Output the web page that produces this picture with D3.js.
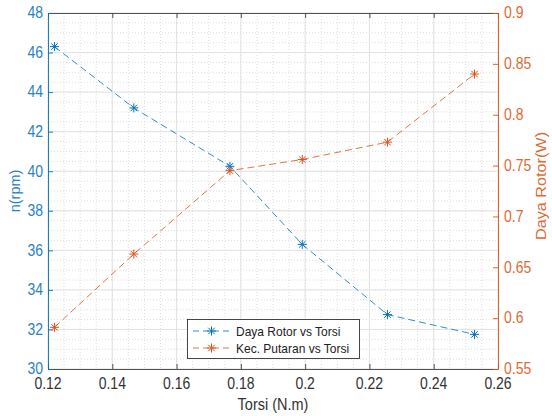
<!DOCTYPE html>
<html>
<head>
<meta charset="utf-8">
<script src="https://cdn.jsdelivr.net/npm/d3@7"></script>
<style>
  html, body { margin: 0; padding: 0; background: #fff; }
  svg { display: block; }
  text { font-family: "Liberation Sans", Arial, Helvetica, sans-serif; }
</style>
</head>
<body>
<svg id="chart" width="552" height="416"></svg>
<script>
// Torque (N.m) on the x axis
const torsi = [0.122, 0.1467, 0.1766, 0.1991, 0.2256, 0.2527];
// Left axis series (blue)
const dayaRotor = [46.3, 43.2, 40.25, 36.3, 32.75, 31.75];
// Right axis series (orange)
const kecPutaran = [0.591, 0.663, 0.745, 0.756, 0.773, 0.840];

const xTicks = [0.12, 0.14, 0.16, 0.18, 0.2, 0.22, 0.24, 0.26];
const yLeftTicks = [30, 32, 34, 36, 38, 40, 42, 44, 46, 48];
const yRightTicks = [0.55, 0.6, 0.65, 0.7, 0.75, 0.8, 0.85, 0.9];

const labels = {
  x: "Torsi (N.m)",
  yLeft: "n(rpm)",
  yRight: "Daya Rotor(W)",
  s1: "Daya Rotor vs Torsi",
  s2: "Kec. Putaran vs Torsi"
};

const BLUE = "#0072BD", ORANGE = "#D95319", AXIS = "#404040";
const BLUE_TXT = "#2a82c3", ORANGE_TXT = "#de6a36";

const W = 552, H = 416;
const m = { top: 13, right: 54, bottom: 47, left: 48 };
const pw = W - m.left - m.right, ph = H - m.top - m.bottom;

const svg = d3.select("#chart");
const g = svg.append("g").attr("transform", `translate(${m.left},${m.top})`);

const x = d3.scaleLinear().domain([0.12, 0.26]).range([0, pw]);
const yL = d3.scaleLinear().domain([30, 48]).range([ph, 0]);
const yR = d3.scaleLinear().domain([0.55, 0.9]).range([ph, 0]);

// minor grid (dotted)
const xMinor = d3.range(0, 29).map(i => 0.12 + i * 0.005);
const yMinor = d3.range(0, 37).map(i => 30 + i * 0.5);
g.append("g").selectAll("line").data(xMinor).join("line")
  .attr("x1", d => x(d)).attr("x2", d => x(d)).attr("y1", 0).attr("y2", ph)
  .attr("stroke", "#d6d6d6").attr("stroke-width", 0.8).attr("stroke-dasharray", "1,2");
g.append("g").selectAll("line").data(yMinor).join("line")
  .attr("y1", d => yL(d)).attr("y2", d => yL(d)).attr("x1", 0).attr("x2", pw)
  .attr("stroke", "#d6d6d6").attr("stroke-width", 0.8).attr("stroke-dasharray", "1,2");

// major grid
g.append("g").selectAll("line").data(xTicks).join("line")
  .attr("x1", d => x(d)).attr("x2", d => x(d)).attr("y1", 0).attr("y2", ph)
  .attr("stroke", "#e2e2e2").attr("stroke-width", 1);
g.append("g").selectAll("line").data(yLeftTicks).join("line")
  .attr("y1", d => yL(d)).attr("y2", d => yL(d)).attr("x1", 0).attr("x2", pw)
  .attr("stroke", "#e2e2e2").attr("stroke-width", 1);

// axes with inward ticks
const fmt = d => String(+d.toFixed(3));
const axB = g.append("g").attr("transform", `translate(0,${ph})`)
  .call(d3.axisBottom(x).tickValues(xTicks).tickSizeInner(-5).tickSizeOuter(0).tickFormat(""));
const axT = g.append("g")
  .call(d3.axisTop(x).tickValues(xTicks).tickSizeInner(-5).tickSizeOuter(0).tickFormat(""));
const axL = g.append("g")
  .call(d3.axisLeft(yL).tickValues(yLeftTicks).tickSizeInner(-5).tickSizeOuter(0).tickFormat(""));
const axR = g.append("g").attr("transform", `translate(${pw},0)`)
  .call(d3.axisRight(yR).tickValues(yRightTicks).tickSizeInner(-5).tickSizeOuter(0).tickFormat(""));
[axB, axT].forEach(a => { a.selectAll("path, line").attr("stroke", AXIS).attr("stroke-width", 0.9); });
axL.selectAll("path, line").attr("stroke", BLUE).attr("stroke-width", 0.9);
axR.selectAll("path, line").attr("stroke", ORANGE).attr("stroke-width", 0.9);

// tick labels (slightly tall glyphs)
const TS = 14, STR = 1.12;
g.append("g").selectAll("text").data(xTicks).join("text")
  .attr("transform", d => `translate(${x(d)},${ph + 20}) scale(1,${STR})`)
  .attr("text-anchor", "middle").attr("font-size", TS).attr("fill", "#333")
  .text(fmt);
g.append("g").selectAll("text").data(yLeftTicks).join("text")
  .attr("transform", d => `translate(-5,${yL(d)}) scale(1,${STR})`)
  .attr("dy", "0.34em").attr("text-anchor", "end").attr("font-size", TS).attr("fill", BLUE_TXT)
  .text(fmt);
g.append("g").selectAll("text").data(yRightTicks).join("text")
  .attr("transform", d => `translate(${pw + 6},${yR(d)}) scale(1,${STR})`)
  .attr("dy", "0.34em").attr("text-anchor", "start").attr("font-size", TS).attr("fill", ORANGE_TXT)
  .text(fmt);

// axis titles
svg.append("text")
  .attr("transform", `translate(${m.left + pw / 2},${H - 6}) scale(1,${STR})`)
  .attr("text-anchor", "middle").attr("font-size", 14.5).attr("fill", "#333")
  .text(labels.x);
svg.append("text")
  .attr("transform", `translate(15,${m.top + ph / 2}) rotate(-90)`)
  .attr("dy", "0.36em").attr("text-anchor", "middle").attr("font-size", 14.5).attr("fill", BLUE_TXT)
  .text(labels.yLeft);
svg.append("text")
  .attr("transform", `translate(541,${m.top + ph / 2 - 5}) rotate(-90) scale(${STR},1)`)
  .attr("dy", "0.36em").attr("text-anchor", "middle").attr("font-size", 14.5).attr("fill", ORANGE_TXT)
  .text(labels.yRight);

// asterisk marker: plus + times
function star(sel, r) {
  const a = r * 0.72;
  sel.attr("d", `M0,${-r}V${r}M${-r},0H${r}M${-a},${-a}L${a},${a}M${-a},${a}L${a},${-a}`)
    .attr("fill", "none").attr("stroke-width", 1);
}

const series = [
  { vals: dayaRotor, y: yL, color: BLUE, name: labels.s1 },
  { vals: kecPutaran, y: yR, color: ORANGE, name: labels.s2 }
];

series.forEach(s => {
  const pts = torsi.map((t, i) => [t, s.vals[i]]);
  g.append("path").datum(pts)
    .attr("d", d3.line().x(d => x(d[0])).y(d => s.y(d[1])))
    .attr("fill", "none").attr("stroke", s.color).attr("stroke-width", 1)
    .attr("stroke-opacity", 0.8).attr("stroke-dasharray", "7,4");
  g.append("g").selectAll("path").data(pts).join("path")
    .attr("transform", d => `translate(${x(d[0])},${s.y(d[1])})`)
    .call(star, 4.5).attr("stroke", s.color);
});

// legend
const lg = svg.append("g").attr("transform", "translate(187,319)");
lg.append("rect").attr("x", 0.5).attr("y", 0.5).attr("width", 172).attr("height", 39)
  .attr("fill", "#fff").attr("stroke", "#333").attr("stroke-width", 0.9);
series.forEach((s, i) => {
  const cy = 12 + i * 17;
  lg.append("line").attr("x1", 6).attr("x2", 43).attr("y1", cy).attr("y2", cy)
    .attr("stroke", s.color).attr("stroke-width", 1).attr("stroke-opacity", 0.8)
    .attr("stroke-dasharray", "6,4");
  lg.append("path").attr("transform", `translate(24.5,${cy})`).call(star, 4.5).attr("stroke", s.color);
  lg.append("text").attr("transform", `translate(49,${cy}) scale(1,${STR})`)
    .attr("dy", "0.36em").attr("font-size", 12).attr("fill", "#222").text(s.name);
});
</script>
</body>
</html>
